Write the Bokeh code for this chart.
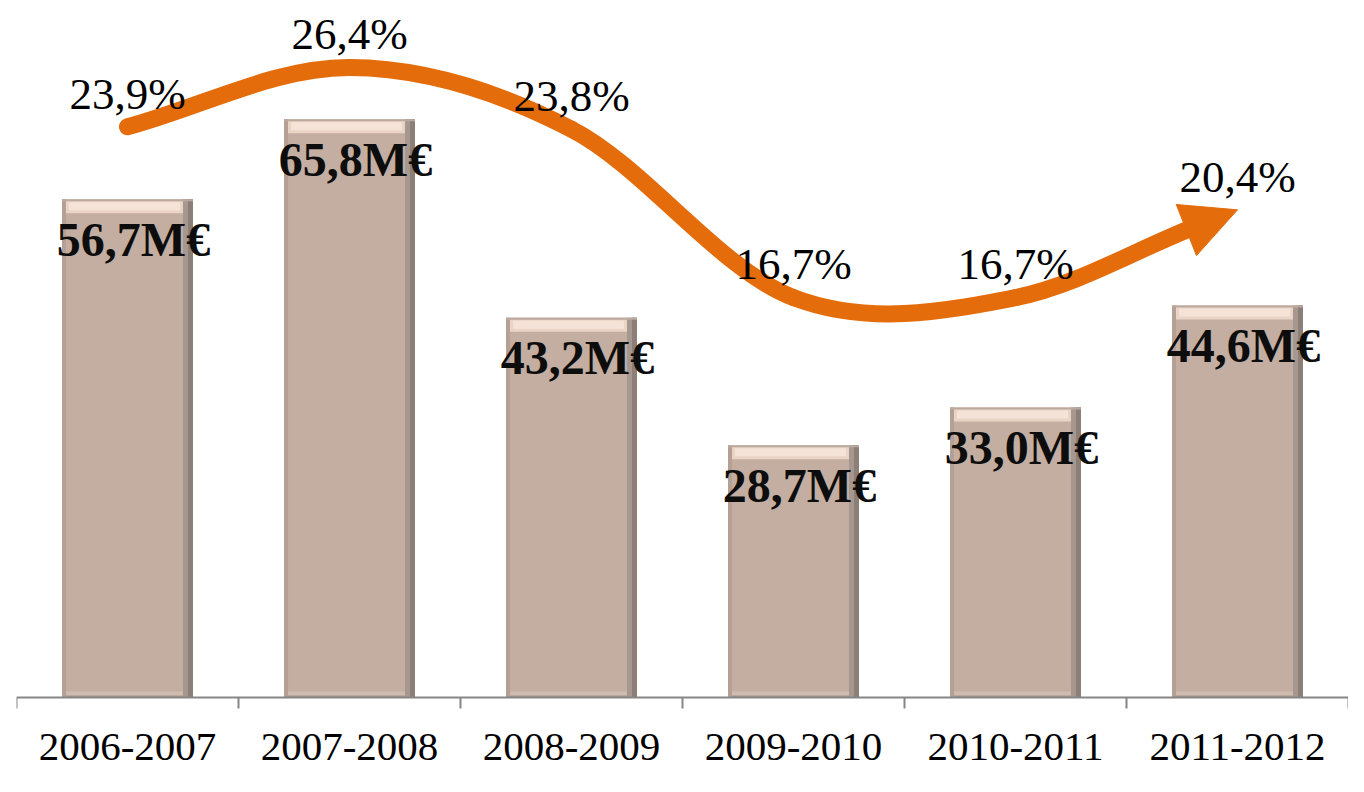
import numpy as np
from bokeh.plotting import figure
from bokeh.models import Range1d, LinearAxis, FixedTicker, Arrow, NormalHead, ColumnDataSource
from bokeh.core.properties import value
from bokeh.embed import file_html
from bokeh.resources import INLINE

# ---- data -------------------------------------------------------------
periods = ["2006-2007", "2007-2008", "2008-2009", "2009-2010", "2010-2011", "2011-2012"]
amounts = [56.7, 65.8, 43.2, 28.7, 33.0, 44.6]          # M€
amount_labels = ["56,7M€", "65,8M€", "43,2M€", "28,7M€", "33,0M€", "44,6M€"]
rates = [23.9, 26.4, 23.8, 16.7, 16.7, 20.4]            # %
rate_labels = ["23,9%", "26,4%", "23,8%", "16,7%", "16,7%", "20,4%"]

# ---- styling / layout constants --------------------------------------
W, H = 1348, 776
LEFT = 16
Y_RANGE = (-8.99, 79.3)          # amount axis; 0 sits on the category axis
PCT_RANGE = (-4.89, 27.825)      # secondary scale for the growth rates
ORANGE = "#E46C0A"
SERIF = "Liberation Serif"
BAR_W = 0.59

n = len(periods)
PX = (W - LEFT) / n                               # px per x unit
PY = H / (Y_RANGE[1] - Y_RANGE[0])                # px per amount unit
PYP = H / (PCT_RANGE[1] - PCT_RANGE[0])           # px per % unit

p = figure(width=W, height=H, output_backend="svg", toolbar_location=None,
           x_range=Range1d(0, n), y_range=Range1d(*Y_RANGE),
           x_axis_type=None, y_axis_type=None,
           min_border_left=LEFT, min_border_right=0, min_border_top=0,
           min_border_bottom=0)
p.extra_y_ranges = {"pct": Range1d(*PCT_RANGE)}
p.outline_line_color = None
p.background_fill_color = "white"
p.border_fill_color = "white"

xs = np.arange(n) + 0.5
vals = np.array(amounts)
L = xs - BAR_W / 2
R = xs + BAR_W / 2

def dx(px):
    return px / PX

def dy(px):
    return px / PY

def quad(left, right, bottom, top, color):
    src = ColumnDataSource(dict(left=left, right=right, bottom=bottom, top=top))
    p.quad(left="left", right="right", bottom="bottom", top="top", source=src,
           fill_color=color, line_color=None)

zeros = np.zeros(n)
# base bar
quad(L, R, zeros, vals, "#C4AEA1")
# bottom band
quad(L, R, zeros, zeros + dy(6), "#CFBBAF")
quad(L, R, zeros, zeros + dy(2), "#A89589")
# left edge
quad(L, L + dx(4), zeros, vals, "#B4A094")
# right edge (shadow)
quad(R - dx(10), R, zeros, vals, "#A69890")
quad(R - dx(5), R, zeros, vals, "#8C7F78")
# top highlight band (bevel)
quad(L + dx(4), R - dx(10), vals - dy(14), vals, "#EAD4C6")
quad(L + dx(7), R - dx(13), vals - dy(11), vals - dy(3), "#F6E3D7")
quad(L, R, vals - dy(2), vals, "#BCA99E")

# amount labels on bars
p.text(x=xs, y=vals - dy(40), text=amount_labels,
       text_font=value(SERIF), text_font_style="bold", text_font_size="48px",
       text_align="center", text_baseline="middle", x_offset=6,
       text_color="#0D0D0D")

# ---- trend arrow derived from the rates -------------------------------
OFF = 1.4
P = np.column_stack([xs, np.array(rates) - OFF])
m = np.zeros_like(P)
m[0] = P[1] - P[0]
m[-1] = P[-1] - P[-2]
for i in range(1, n - 1):
    m[i] = (P[i + 1] - P[i - 1]) / 2

# notch point: shaft stops ~46px before the tip
d_px = np.array([m[-1][0] * PX, m[-1][1] * PYP])
d_px = d_px / np.linalg.norm(d_px)
back = 46.0
N = P[-1] - np.array([d_px[0] * back / PX, d_px[1] * back / PYP])

x0, y0, x1, y1, cx0, cy0, cx1, cy1 = ([] for _ in range(8))
for i in range(n - 1):
    a = P[i]
    if i == n - 2:
        b = N
        frac = np.linalg.norm((N - P[i]) * [PX, PYP]) / np.linalg.norm((P[-1] - P[i]) * [PX, PYP])
        c0 = a + m[i] / 3 * frac
        c1 = b - m[i + 1] / 3 * frac
    else:
        b = P[i + 1]
        c0 = a + m[i] / 3
        c1 = b - m[i + 1] / 3
    x0.append(a[0]); y0.append(a[1]); x1.append(b[0]); y1.append(b[1])
    cx0.append(c0[0]); cy0.append(c0[1]); cx1.append(c1[0]); cy1.append(c1[1])

p.bezier(x0=x0, y0=y0, x1=x1, y1=y1, cx0=cx0, cy0=cy0, cx1=cx1, cy1=cy1,
         line_color=ORANGE, line_width=17, line_cap="round", y_range_name="pct")

p.add_layout(Arrow(end=NormalHead(size=55, fill_color=ORANGE, line_color=ORANGE, line_width=1),
                   x_start=float(N[0]), y_start=float(N[1]),
                   x_end=float(P[-1][0]), y_end=float(P[-1][1]),
                   line_alpha=0, line_width=0, y_range_name="pct"))

# rate labels
p.text(x=xs, y=rates, text=rate_labels, y_range_name="pct",
       text_font=value(SERIF), text_font_size="45px",
       text_align="center", text_baseline="middle", text_color="black")

# ---- category axis (drawn at amount 0) ---------------------------------
ax = LinearAxis(ticker=FixedTicker(ticks=list(xs), minor_ticks=list(range(n + 1))),
                fixed_location=0)
ax.major_label_overrides = {float(x): lab for x, lab in zip(xs, periods)}
ax.major_tick_out = 0
ax.major_tick_in = 0
ax.minor_tick_out = 11
ax.minor_tick_in = 0
ax.minor_tick_line_color = "#868686"
ax.minor_tick_line_width = 2
ax.axis_line_color = "#868686"
ax.axis_line_width = 2
ax.major_label_text_font = SERIF
ax.major_label_text_font_size = "41px"
ax.major_label_text_color = "black"
ax.major_label_standoff = 26
p.add_layout(ax, "below")

open("out.html", "w").write(file_html(p, INLINE))
